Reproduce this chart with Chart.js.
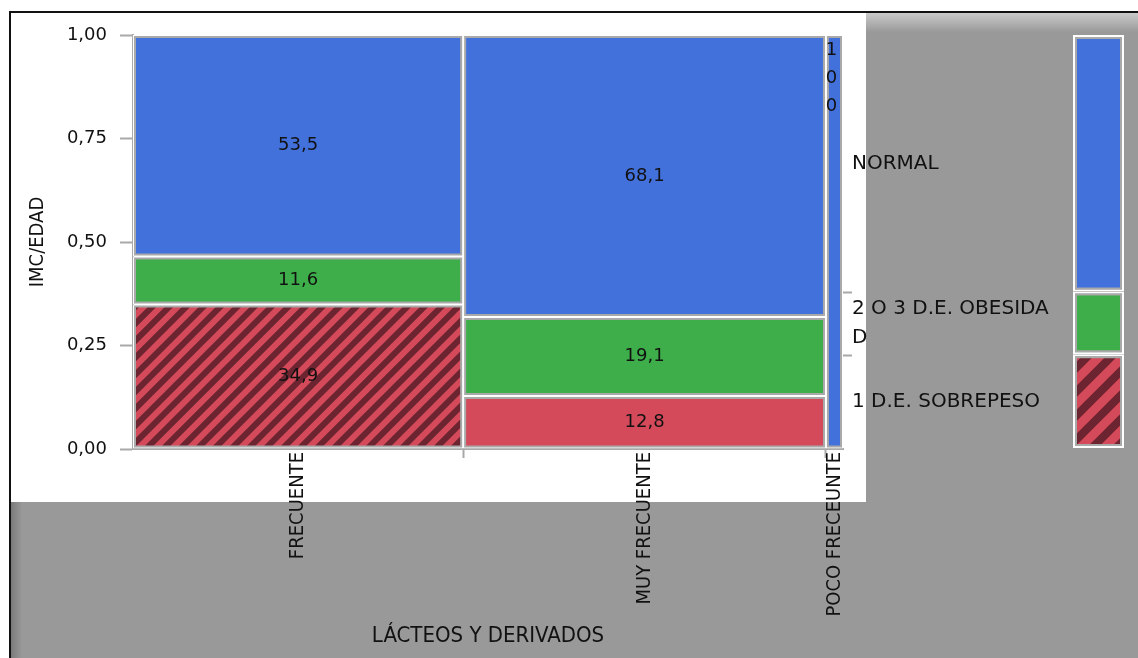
<!DOCTYPE html>
<html>
<head>
<meta charset="utf-8">
<title>IMC/EDAD por LÁCTEOS Y DERIVADOS</title>
<script src="https://cdn.jsdelivr.net/npm/chart.js@4.4.1/dist/chart.umd.min.js"></script>
<style>
  body { margin: 0; background: #fff; }
  #wrap { position: relative; width: 1138px; height: 658px; }
  #Mosaic-Chart { position: absolute; left: 0; top: 0; }
  #Total-Chart { position: absolute; left: 1060px; top: 0; }
</style>
</head>
<body>
<div id="wrap">
  <canvas id="Mosaic-Chart" width="1138" height="658"></canvas>
  <canvas id="Total-Chart" width="78" height="658"></canvas>
</div>
<script>
// columns (share of children in each dairy-intake group, %)
const categories = ["FRECUENTE", "MUY FRECUENTE", "POCO FRECEUNTE"];
const columnShare = [46.5, 51.1, 2.4];

// IMC/EDAD levels, bottom to top
const levels = ["1 D.E. SOBREPESO", ["2 O 3 D.E. OBESIDA", "D"], "NORMAL"];
const sobrepeso = [34.9, 12.8, 0];
const obesidad = [11.6, 19.1, 0];
const normal = [53.5, 68.1, 100];

// whole sample, same level order
const total = [22.7, 15.2, 62.1];

const yTicks = [0, 25, 50, 75, 100];

const BLUE = "#4371dc";
const GREEN = "#3dae49";
const RED = "#d44a5a";
const EDGE = "#a9a9a9";
const NONE = "rgba(0,0,0,0)";
const levelColors = [RED, GREEN, BLUE];
const levelValues = [sobrepeso, obesidad, normal];

const narrow = "'Liberation Sans Narrow', 'DejaVu Sans Condensed', 'Liberation Sans', sans-serif";

// diagonal "/" stripes, drawn long enough to tile without seams
function hatch(size, line) {
  const c = document.createElement("canvas");
  c.width = c.height = size;
  const g = c.getContext("2d");
  g.fillStyle = RED;
  g.fillRect(0, 0, size, size);
  g.strokeStyle = "#6b2430";
  g.lineWidth = line;
  g.beginPath();
  for (let k = -2; k <= 2; k++) {
    g.moveTo(k * size - size, 2 * size);
    g.lineTo(k * size + 2 * size, -size);
  }
  g.stroke();
  return g.createPattern(c, "repeat");
}
const stripes = hatch(17, 6);
const bigStripes = hatch(24, 8);

function fmt(v) {
  return Number.isInteger(v) ? String(v) : v.toFixed(1).replace(".", ",");
}

// column centers on the 0-100 x axis
const starts = [];
columnShare.reduce((acc, s) => { starts.push(acc); return acc + s; }, 0);
const centers = columnShare.map((s, i) => starts[i] + s / 2);

function cells(col) {
  let lo = 0;
  const out = [];
  levelValues.forEach((vals, level) => {
    const v = vals[col];
    if (v > 0) out.push({ x: centers[col], y: [lo, lo + v], value: v, level: level });
    lo += v;
  });
  return out;
}

const datasets = [];
categories.forEach((name, col) => {
  const data = cells(col);
  datasets.push({
    label: name,
    data: data,
    share: columnShare[col],
    valueLabels: true,
    backgroundColor: ctx => (ctx.raw && ctx.raw.level === 0 && col === 0) ? stripes : levelColors[ctx.raw ? ctx.raw.level : 0],
    borderColor: NONE,
    borderWidth: 3,
    borderSkipped: false,
    inflateAmount: 0,
    grouped: false,
    order: 1
  });
  datasets.push({
    label: name + " borde",
    data: data,
    share: columnShare[col],
    backgroundColor: EDGE,
    borderColor: "#ffffff",
    borderWidth: 1,
    borderSkipped: false,
    inflateAmount: 0,
    grouped: false,
    order: 2
  });
});

// x ticks: marks on column boundaries, names at column centers
const xTicks = [];
categories.forEach((name, i) => {
  xTicks.push({ value: centers[i], label: name, mark: false });
  if (i > 0) xTicks.push({ value: starts[i], label: "", mark: true });
});
xTicks.sort((a, b) => a.value - b.value);

// right axis: marks on level boundaries of the whole sample, names at the middle
const rightTicks = [];
let acc = 0;
total.forEach((v, i) => {
  rightTicks.push({ value: acc + v / 2, label: levels[i], mark: false });
  acc += v;
  if (i < total.length - 1) rightTicks.push({ value: acc, label: "", mark: true });
});
rightTicks.sort((a, b) => a.value - b.value);

const background = {
  id: "background",
  beforeDraw(chart) {
    const ctx = chart.ctx;
    const W = chart.width, H = chart.height;
    ctx.save();
    ctx.fillStyle = "#ffffff";
    ctx.fillRect(0, 0, W, H);
    ctx.fillStyle = "#999999";
    ctx.fillRect(11, 13, W - 11, H - 13);
    let g = ctx.createLinearGradient(0, 13, 0, 32);
    g.addColorStop(0, "#cacaca");
    g.addColorStop(1, "#999999");
    ctx.fillStyle = g;
    ctx.fillRect(866, 13, W - 866, 19);
    g = ctx.createLinearGradient(11, 0, 22, 0);
    g.addColorStop(0, "#7a7a7a");
    g.addColorStop(1, "#999999");
    ctx.fillStyle = g;
    ctx.fillRect(11, 502, 11, H - 502);
    ctx.fillStyle = "#ffffff";
    ctx.fillRect(11, 13, 855, 489);
    ctx.fillStyle = "#111111";
    ctx.fillRect(9, 11, W - 9, 2);
    ctx.fillRect(9, 11, 2, H - 11);
    ctx.restore();
  }
};

// bar width follows the column share on the x scale
const columnWidth = {
  id: "columnWidth",
  beforeDatasetsUpdate(chart) {
    const x = chart.scales.x;
    chart.data.datasets.forEach(ds => {
      if (ds.share !== undefined) ds.barThickness = x.getPixelForValue(ds.share) - x.getPixelForValue(0);
    });
  }
};

const cellLabels = {
  id: "cellLabels",
  afterDatasetsDraw(chart) {
    const ctx = chart.ctx;
    ctx.save();
    ctx.font = "18px 'DejaVu Sans'";
    ctx.fillStyle = "#111111";
    ctx.textAlign = "center";
    ctx.textBaseline = "middle";
    chart.data.datasets.forEach((ds, i) => {
      if (!ds.valueLabels) return;
      chart.getDatasetMeta(i).data.forEach((bar, j) => {
        const txt = fmt(ds.data[j].value);
        if (ctx.measureText(txt).width < bar.width) {
          ctx.fillText(txt, bar.x, (bar.y + bar.base) / 2);
        } else {
          [...txt].forEach((ch, k) => ctx.fillText(ch, bar.x - 3, bar.y + 15 + 28 * k));
        }
      });
    });
    ctx.restore();
  }
};

const config = {
  type: "bar",
  data: { datasets: datasets },
  options: {
    responsive: false,
    animation: false,
    layout: { padding: { top: 35, left: 0, right: 0, bottom: 0 } },
    plugins: {
      legend: { display: false },
      tooltip: { enabled: false }
    },
    scales: {
      x: {
        type: "linear",
        min: 0,
        max: 100,
        offset: false,
        afterBuildTicks: s => { s.ticks = xTicks.map(t => ({ value: t.value })); },
        afterFit: s => { s.height = 209; },
        ticks: {
          autoSkip: false,
          minRotation: 90,
          maxRotation: 90,
          padding: -6,
          color: "#111111",
          font: { family: narrow, size: 20 },
          callback: (v, i) => xTicks[i].label
        },
        grid: {
          offset: false,
          drawOnChartArea: false,
          tickLength: 9,
          tickWidth: 2,
          tickColor: ctx => xTicks[ctx.index] && xTicks[ctx.index].mark ? EDGE : NONE
        },
        border: { color: EDGE, width: 2 },
        title: {
          display: true,
          text: "LÁCTEOS Y DERIVADOS",
          color: "#111111",
          font: { family: narrow, size: 22 },
          padding: { top: 4, bottom: 9 }
        }
      },
      y: {
        min: 0,
        max: 100,
        afterBuildTicks: s => { s.ticks = yTicks.map(v => ({ value: v })); },
        afterFit: s => { s.width = 133; },
        ticks: {
          padding: 13,
          color: "#111111",
          font: { family: "'DejaVu Sans'", size: 18 },
          callback: v => (v / 100).toFixed(2).replace(".", ",")
        },
        grid: { drawOnChartArea: false, tickLength: 13, tickWidth: 2, tickColor: EDGE },
        border: { color: EDGE, width: 2 },
        title: {
          display: true,
          text: "IMC/EDAD",
          color: "#111111",
          font: { family: narrow, size: 20 },
          padding: { top: 26, bottom: 0 }
        }
      },
      y2: {
        position: "right",
        min: 0,
        max: 100,
        afterBuildTicks: s => { s.ticks = rightTicks.map(t => ({ value: t.value })); },
        afterFit: s => { s.width = 295; },
        ticks: {
          autoSkip: false,
          padding: 0,
          color: "#111111",
          font: { family: "'DejaVu Sans'", size: 20, lineHeight: 1.45 },
          callback: (v, i) => rightTicks[i].label
        },
        grid: {
          drawOnChartArea: false,
          tickLength: 9,
          tickWidth: 2,
          tickColor: ctx => rightTicks[ctx.index] && rightTicks[ctx.index].mark ? EDGE : NONE
        },
        border: { display: false }
      }
    }
  },
  plugins: [background, columnWidth, cellLabels]
};

let myChart = new Chart(document.getElementById("Mosaic-Chart"), config);

// marginal bar for the whole sample
const totalSets = [];
let lo = 0;
total.forEach((v, level) => {
  const range = [lo, lo + v];
  lo += v;
  totalSets.push({
    data: [range],
    backgroundColor: level === 0 ? bigStripes : levelColors[level],
    borderColor: NONE,
    borderWidth: 4,
    borderSkipped: false,
    inflateAmount: 0,
    grouped: false,
    order: 1
  });
  totalSets.push({
    data: [range],
    backgroundColor: EDGE,
    borderColor: "#ffffff",
    borderWidth: 2,
    borderSkipped: false,
    inflateAmount: 0,
    grouped: false,
    order: 2
  });
});

const config2 = {
  type: "bar",
  data: { labels: ["TOTAL"], datasets: totalSets },
  options: {
    responsive: false,
    animation: false,
    layout: { padding: { top: 35, left: 13, right: 14, bottom: 210 } },
    categoryPercentage: 1,
    barPercentage: 1,
    plugins: {
      legend: { display: false },
      tooltip: { enabled: false }
    },
    scales: {
      x: { display: false },
      y: { display: false, min: 0, max: 100 }
    }
  }
};

let totalChart = new Chart(document.getElementById("Total-Chart"), config2);
</script>
</body>
</html>
